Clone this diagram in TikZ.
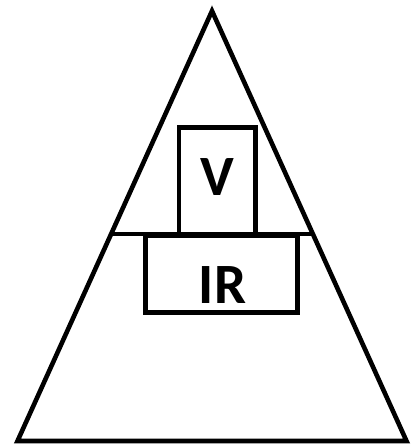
\documentclass[tikz,border=0pt]{standalone}
\usepackage{fontspec}
\setmainfont{Carlito}
\usetikzlibrary{calc}
\begin{document}
\begin{tikzpicture}[x=1pt,y=-1pt,line width=4.6pt,
  lbl/.style={font=\bfseries\fontsize{57}{57}\selectfont,inner sep=0pt}]
\useasboundingbox (0,0) rectangle (414,447);
\coordinate (apex) at (212,11);
\coordinate (bl) at (17.5,441);
\coordinate (br) at (406.5,441);
\draw[line join=miter] (apex) -- (bl) -- (br) -- cycle;
\coordinate (ml) at ($(apex)!0.5186!(bl)$);
\coordinate (mr) at ($(apex)!0.5186!(br)$);
\draw (179,235.5) rectangle (255.5,127.5);
\draw (145.5,235.5) rectangle (297.5,312.5);
\draw (ml) -- (mr);
\node[lbl] (v) at (217.5,177) {V};
\node[lbl] (ir) at (222.5,285) {IR};
\end{tikzpicture}
\end{document}
